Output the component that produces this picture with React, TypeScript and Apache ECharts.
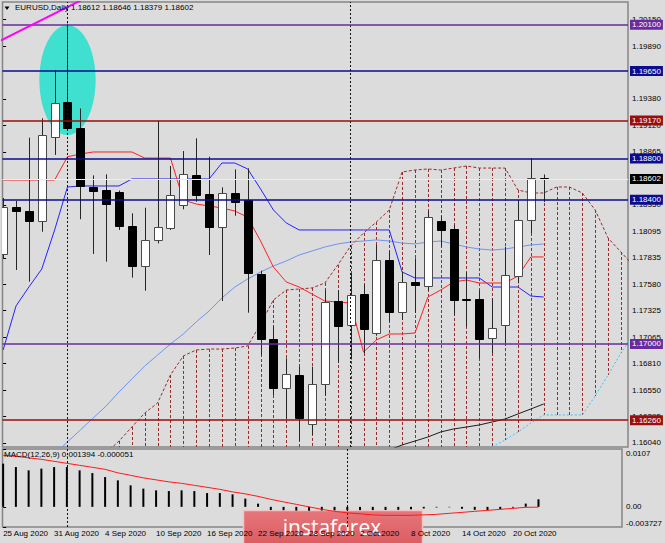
import React, { useEffect, useRef } from "react";
import * as echarts from "echarts";

// ---------------- data ----------------
const symbol = "EURUSD";
const timeframe = "Daily";
const dates = [
  "25 Aug 2020", "26 Aug 2020", "27 Aug 2020", "28 Aug 2020", "31 Aug 2020",
  "1 Sep 2020", "2 Sep 2020", "3 Sep 2020", "4 Sep 2020", "7 Sep 2020",
  "8 Sep 2020", "9 Sep 2020", "10 Sep 2020", "11 Sep 2020", "14 Sep 2020",
  "15 Sep 2020", "16 Sep 2020", "17 Sep 2020", "18 Sep 2020", "21 Sep 2020",
  "22 Sep 2020", "23 Sep 2020", "24 Sep 2020", "25 Sep 2020", "28 Sep 2020",
  "29 Sep 2020", "30 Sep 2020", "1 Oct 2020", "2 Oct 2020", "5 Oct 2020",
  "6 Oct 2020", "7 Oct 2020", "8 Oct 2020", "9 Oct 2020", "12 Oct 2020",
  "13 Oct 2020", "14 Oct 2020", "15 Oct 2020", "16 Oct 2020", "19 Oct 2020",
  "20 Oct 2020", "21 Oct 2020", "22 Oct 2020",
];
const opens = [
  1.17874, 1.18332, 1.18291, 1.18197, 1.19006, 1.19346, 1.19097, 1.18527, 1.18495, 1.18478,
  1.18145, 1.1776, 1.1801, 1.18129, 1.18349, 1.18637, 1.18459, 1.18132, 1.18466, 1.18395,
  1.17677, 1.17049, 1.1657, 1.16699, 1.16223, 1.16612, 1.17417, 1.17184, 1.17482, 1.17104,
  1.17815, 1.17314, 1.17599, 1.17563, 1.18194, 1.18113, 1.1744, 1.17434, 1.17055, 1.17184,
  1.17663, 1.18204, 1.18612,
];
const closes = [
  1.1833, 1.1829, 1.18197, 1.19026, 1.19342, 1.19097, 1.18534, 1.1849, 1.1836, 1.18142,
  1.1776, 1.1801, 1.18136, 1.18446, 1.18647, 1.18446, 1.18132, 1.18463, 1.18378, 1.17686,
  1.17049, 1.1657, 1.16706, 1.16285, 1.16609, 1.17411, 1.17175, 1.17476, 1.17146, 1.17815,
  1.17314, 1.17599, 1.17573, 1.1823, 1.18104, 1.17427, 1.1743, 1.17049, 1.17152, 1.17667,
  1.18201, 1.18608, 1.18602,
];
const lows = [
  1.1783, 1.17718, 1.17605, 1.1809, 1.18835, 1.1909, 1.18211, 1.17874, 1.17799, 1.18107,
  1.17644, 1.17517, 1.17977, 1.18107, 1.18307, 1.18381, 1.17864, 1.17417, 1.18245, 1.17304,
  1.16893, 1.16505, 1.1627, 1.16058, 1.16117, 1.165, 1.16816, 1.1685, 1.1691, 1.1708,
  1.17216, 1.17233, 1.17301, 1.1752, 1.17944, 1.17281, 1.17168, 1.16861, 1.1691, 1.1701,
  1.17589, 1.18075, 1.18379,
];
const highs = [
  1.18417, 1.18388, 1.19003, 1.19191, 1.1966, 1.2011, 1.19287, 1.18637, 1.18647, 1.1849,
  1.18269, 1.18323, 1.19168, 1.18728, 1.18873, 1.18997, 1.18818, 1.18521, 1.18695, 1.18705,
  1.17712, 1.17175, 1.16861, 1.1678, 1.1678, 1.17524, 1.17524, 1.17686, 1.1758, 1.17961,
  1.179, 1.17702, 1.17832, 1.18291, 1.1824, 1.18155, 1.17696, 1.1752, 1.17444, 1.17944,
  1.18398, 1.18803, 1.18646,
];
const tenkan = [
  1.18592, 1.18592, 1.18592, 1.18592, 1.18592, 1.18818, 1.18844, 1.18864, 1.18864, 1.18864,
  1.18864, 1.18805, 1.18805, 1.18805, 1.18398, 1.18359, 1.1834, 1.1832, 1.18291, 1.1823,
  1.18, 1.17747, 1.17602, 1.17553, 1.17485, 1.17417, 1.17408, 1.17398, 1.16922, 1.17039,
  1.17097, 1.17097, 1.17107, 1.17456, 1.17524, 1.17602, 1.17621, 1.17592, 1.17592, 1.17592,
  1.1766, 1.17845, 1.17845,
];
const kijun = [
  1.16942, 1.17369, 1.17553, 1.17728, 1.18107, 1.18524, 1.18534, 1.18534, 1.18534, 1.18534,
  1.18602, 1.18602, 1.18602, 1.18602, 1.18602, 1.18602, 1.18602, 1.18757, 1.18757, 1.18699,
  1.18505, 1.18301, 1.18175, 1.18107, 1.18107, 1.18107, 1.18107, 1.18107, 1.18107, 1.18107,
  1.18107, 1.17699, 1.17641, 1.17641, 1.17641, 1.17641, 1.17641, 1.17641, 1.17553, 1.17553,
  1.17553, 1.17466, 1.17456,
];
const maSlowStart = 4;
const maSlow = [
  1.15932, 1.16049, 1.16165, 1.16282, 1.16398, 1.16534, 1.1666, 1.16786, 1.16893, 1.17,
  1.17097, 1.17214, 1.1732, 1.17447, 1.17553, 1.17631, 1.17699, 1.17757, 1.17806, 1.17864,
  1.17903, 1.17942, 1.17971, 1.1799, 1.18, 1.1801, 1.18, 1.1798, 1.17971, 1.1799,
  1.18, 1.17971, 1.17942, 1.17922, 1.17912, 1.17922, 1.17942, 1.17961, 1.17971,
];
const maDarkStart = 30;
const maDark = [
  1.15971, 1.1602, 1.16058, 1.16097, 1.16146, 1.16175, 1.16194, 1.16214, 1.16243, 1.16272,
  1.16321, 1.16369, 1.16418,
];
const cloudStart = 8;
const spanA = [
  1.15942, 1.16058, 1.16194, 1.1633, 1.16427, 1.16699, 1.16884, 1.16942, 1.16951, 1.16951,
  1.16961, 1.16981, 1.17194, 1.17427, 1.17524, 1.17534, 1.17544, 1.17592, 1.17767, 1.17951,
  1.18077, 1.18184, 1.18301, 1.1867, 1.18689, 1.18699, 1.18689, 1.18708, 1.18728, 1.18708,
  1.18708, 1.18708, 1.18495, 1.18466, 1.18466, 1.18524, 1.18524, 1.18466, 1.18301, 1.18029,
  1.17893, 1.17757,
];
const spanB = [
  1.1548, 1.1551, 1.1551, 1.1553, 1.1556, 1.1557, 1.1561, 1.1561, 1.1562, 1.1566,
  1.1566, 1.1567, 1.1571, 1.1571, 1.1574, 1.1576, 1.1576, 1.1578, 1.1581, 1.1581,
  1.1583, 1.1584, 1.1584, 1.1587, 1.1587, 1.1589, 1.1589, 1.1591, 1.1593, 1.1596,
  1.16, 1.16068, 1.16146, 1.16233, 1.16311, 1.16311, 1.16311, 1.16311, 1.16495, 1.16699,
  1.16913, 1.17087,
];
const macdParams = "12,26,9";
const macdHist = [
  0.00799, 0.00736, 0.00675, 0.00707, 0.00736, 0.00736, 0.00675, 0.00625, 0.00551, 0.0049,
  0.00398, 0.00337, 0.00305, 0.00292, 0.00305, 0.00292, 0.00255, 0.00255, 0.00231, 0.00152,
  0.00059, -0.0006, -0.00062, -0.0007, -0.00072, -0.00068, -0.00065, -0.00062, -0.0006, -0.0006,
  -0.00058, -0.00055, -0.00045, -0.0003, -0.00012, -0.00008, -0.00035, -0.00055, -0.00062, -0.00045,
  -0.00015, 0.0006, 0.001394,
];
const macdSignal = [
  0.00953, 0.00934, 0.00906, 0.00879, 0.00842, 0.00805, 0.00768, 0.00731, 0.00694, 0.00629,
  0.00583, 0.00536, 0.00499, 0.00462, 0.00435, 0.00398, 0.00361, 0.00324, 0.00277, 0.0024,
  0.00194, 0.00139, 0.00092, 0.00046, 0.0, -0.00046, -0.00083, -0.00111, -0.00129, -0.00148,
  -0.00157, -0.00157, -0.00157, -0.00148, -0.00139, -0.0012, -0.00102, -0.00083, -0.00065, -0.00046,
  -0.00028, -0.00009, -0.000051,
];
const levelPrices = [1.201, 1.1965, 1.1917, 1.188, 1.184, 1.17, 1.1626];
const priceTicks = [
  1.1604, 1.16295, 1.1655, 1.1681, 1.17065, 1.17325, 1.1758, 1.17835, 1.18095, 1.1835,
  1.18865, 1.1912, 1.1938, 1.1989, 1.2015,
];
const macdTicks = [-0.003727, 0, 0.0107];
const macdTickLabels = ["-0.003727", "0.00", "0.0107"];
const dateLabelStep = 4;
const trendX = [-1, 7];
const trendY = [1.19896, 1.20396];
const highlightCenter = [5.0, 1.19562];
const highlightRadius = [2.19, 0.00534];
const watermark = "instaforex";

// ---------------- styles ----------------
const BG = "#dcdcdc";
const FONT = "Liberation Sans, Arial, sans-serif";
const levelColors = ["#6a2c9c", "#0c0c8e", "#9a0e0e", "#0c0c8e", "#0c0c8e", "#6a2c9c", "#9a0e0e"];
const CLOUD = "#9a2a2a";
const X_MIN = -0.05;
const X_MAX = 48.55;
const Y_MIN = 1.16;
const Y_MAX = 1.2032;
const M_MIN = -0.003727;
const M_MAX = 0.0107;

const last = closes.length - 1;
const idx = (arr: number[], start: number) => arr.map((v, i) => [start + i, v]);
const separators = dates
  .map((d, i) => (i > 0 && d.split(" ")[1] !== dates[i - 1].split(" ")[1] ? i : -1))
  .filter((i) => i >= 0);

const renderCandle = (_p: any, api: any) => {
  const i = api.value(0);
  const o = api.value(1), c = api.value(2), l = api.value(3), h = api.value(4);
  const po = api.coord([i, o]);
  const pc = api.coord([i, c]);
  const pl = api.coord([i, l]);
  const ph = api.coord([i, h]);
  const bw = Math.round(api.size([1, 0])[0] * 0.62);
  const xc = Math.round(po[0]) + 0.5;
  const top = Math.round(Math.min(po[1], pc[1])) + 0.5;
  let bot = Math.round(Math.max(po[1], pc[1])) + 0.5;
  if (bot - top < 1) bot = top + 1;
  const up = c > o;
  return {
    type: "group",
    children: [
      { type: "line", shape: { x1: xc, y1: ph[1], x2: xc, y2: pl[1] }, style: { stroke: "#262626", lineWidth: 1 } },
      {
        type: "rect",
        shape: { x: xc - bw / 2, y: top, width: bw, height: bot - top },
        style: { fill: up ? "#ffffff" : "#000000", stroke: up ? "#4a4a4a" : "#000000", lineWidth: 1 },
      },
    ],
  };
};

const renderHatch = (_p: any, api: any) => {
  const i = api.value(0);
  const a = api.coord([i, api.value(1)]);
  const b = api.coord([i, api.value(2)]);
  const x = Math.round(a[0]) + 0.5;
  return {
    type: "line",
    shape: { x1: x, y1: a[1], x2: x, y2: b[1] },
    style: { stroke: CLOUD, lineWidth: 1, lineDash: [3, 2] },
  };
};

const renderHighlight = (_p: any, api: any) => {
  const c = api.coord([api.value(0), api.value(1)]);
  const s = api.size([api.value(2), api.value(3)]);
  return {
    type: "circle",
    x: c[0],
    y: c[1],
    scaleX: s[0] / s[1],
    shape: { cx: 0, cy: 0, r: s[1] },
    style: { fill: "#40e0d0" },
  };
};

const lineSeries = (data: number[][], color: string, z: number, extra: any = {}) => ({
  type: "line",
  data,
  xAxisIndex: 0,
  yAxisIndex: 0,
  symbol: "none",
  showSymbol: false,
  silent: true,
  z,
  lineStyle: { color, width: 1, ...extra },
});

const levelLabel = (bg: string, color = "#ffffff") => ({
  show: true,
  position: "end",
  distance: 2,
  formatter: (p: any) => Number(p.value).toFixed(5),
  color,
  backgroundColor: bg,
  padding: [1, 2, 0, 2],
  fontSize: 8,
  lineHeight: 9,
  fontFamily: FONT,
});

const option: any = {
  animation: false,
  backgroundColor: BG,
  textStyle: { fontFamily: FONT },
  title: [
    {
      text: `${symbol},${timeframe} ${opens[last].toFixed(5)} ${highs[last].toFixed(5)} ${lows[last].toFixed(5)} ${closes[last].toFixed(5)}`,
      left: 15,
      top: 3.5,
      padding: 0,
      textStyle: { fontSize: 8, fontWeight: "normal", color: "#000", fontFamily: FONT },
    },
    {
      text: `MACD(${macdParams}) ${macdHist[last].toFixed(6)} ${macdSignal[last].toFixed(6)}`,
      left: 4,
      top: 450.5,
      padding: 0,
      textStyle: { fontSize: 8, fontWeight: "normal", color: "#000", fontFamily: FONT },
    },
  ],
  grid: [
    { left: 2.5, right: 37, top: 2, height: 445, show: true, borderColor: "#858585", borderWidth: 1.5, backgroundColor: "transparent" },
    { left: 2.5, right: 37, top: 449, height: 78, show: true, borderColor: "#858585", borderWidth: 1.5, backgroundColor: "transparent" },
  ],
  xAxis: [
    { type: "value", gridIndex: 0, min: X_MIN, max: X_MAX, show: false },
    {
      type: "value",
      gridIndex: 1,
      min: X_MIN,
      max: X_MAX,
      splitLine: { show: false },
      axisLine: { show: false },
      axisTick: { show: false },
      axisLabel: {
        customValues: dates.map((_, i) => i).filter((i) => i % dateLabelStep === 0),
        formatter: (v: number) => dates[Math.round(v)] ?? "",
        align: "left",
        margin: 2,
        fontSize: 8,
        color: "#000",
        fontFamily: FONT,
      },
    },
  ],
  yAxis: [
    {
      type: "value",
      gridIndex: 0,
      position: "right",
      min: Y_MIN,
      max: Y_MAX,
      splitLine: { show: false },
      axisLine: { show: false },
      axisTick: { show: true, length: 3, customValues: priceTicks, lineStyle: { color: "#000" } },
      axisLabel: {
        customValues: priceTicks,
        formatter: (v: number) => v.toFixed(5),
        margin: 4,
        fontSize: 8,
        color: "#000",
        fontFamily: FONT,
      },
    },
    {
      type: "value",
      gridIndex: 1,
      position: "right",
      min: M_MIN,
      max: M_MAX,
      splitLine: { show: false },
      axisLine: { show: false },
      axisTick: { show: true, length: 3, customValues: macdTicks, lineStyle: { color: "#000" } },
      axisLabel: {
        customValues: macdTicks,
        formatter: (v: number) => {
          const k = macdTicks.findIndex((t) => Math.abs(t - v) < 1e-9);
          return k >= 0 ? macdTickLabels[k] : "";
        },
        verticalAlignMinLabel: "bottom",
        verticalAlignMaxLabel: "top",
        margin: 4,
        fontSize: 8,
        color: "#000",
        fontFamily: FONT,
      },
    },
  ],
  graphic: [
    { type: "polygon", shape: { points: [[4.5, 6.5], [9.5, 6.5], [7, 10]] }, style: { fill: "#000" }, z: 50 },
    {
      type: "group",
      z: 100,
      children: [
        {
          type: "rect",
          shape: { x: 243.5, y: 510.5, width: 179, height: 40 },
          style: {
            fill: new echarts.graphic.LinearGradient(0, 0, 0, 1, [
              { offset: 0, color: "#e6767a" },
              { offset: 1, color: "#d9585d" },
            ]),
            stroke: "#f3c4c4",
            lineWidth: 1.5,
          },
        },
        {
          type: "text",
          style: {
            text: watermark,
            x: 332,
            y: 527,
            align: "center",
            verticalAlign: "middle",
            fill: "#ffffff",
            fontSize: 21,
            fontFamily: "Open Sans, Lato, sans-serif",
          },
        },
      ],
    },
  ],
  series: [
    {
      type: "custom",
      xAxisIndex: 0,
      yAxisIndex: 0,
      renderItem: renderHighlight,
      data: [[highlightCenter[0], highlightCenter[1], highlightRadius[0], highlightRadius[1]]],
      encode: { x: 0, y: 1 },
      silent: true,
      z: 1,
    },
    {
      type: "custom",
      xAxisIndex: 0,
      yAxisIndex: 0,
      renderItem: renderHatch,
      data: spanA.map((a, i) => [cloudStart + i, a, spanB[i]]),
      encode: { x: 0, y: [1, 2] },
      clip: true,
      silent: true,
      z: 2,
    },
    lineSeries(idx(spanA, cloudStart), CLOUD, 2, { type: [3, 2] }),
    lineSeries(idx(spanB, cloudStart), "#3ec3f2", 2, { type: [2, 2] }),
    lineSeries(idx(maSlow, maSlowStart), "#6f93ee", 3),
    lineSeries(idx(maDark, maDarkStart), "#1e1e1e", 3),
    lineSeries(idx(kijun, 0), "#2323ff", 3),
    lineSeries(idx(tenkan, 0), "#ff2020", 3),
    {
      type: "custom",
      xAxisIndex: 0,
      yAxisIndex: 0,
      renderItem: renderCandle,
      data: opens.map((o, i) => [i, o, closes[i], lows[i], highs[i]]),
      encode: { x: 0, y: [1, 2, 3, 4] },
      clip: true,
      silent: true,
      z: 4,
    },
    lineSeries(trendX.map((x, i) => [x, trendY[i]]), "#ff00ff", 5, { width: 2 }),
    {
      type: "line",
      xAxisIndex: 0,
      yAxisIndex: 0,
      data: [],
      silent: true,
      z: 6,
      markLine: {
        silent: true,
        symbol: "none",
        precision: 5,
        animation: false,
        data: [
          ...separators.map((s) => ({
            xAxis: s,
            lineStyle: { color: "#111", width: 1, type: [2, 2] },
            label: { show: false },
          })),
          {
            yAxis: closes[last],
            lineStyle: { color: "#ececf4", width: 1, type: "solid" },
            label: levelLabel("#000000"),
          },
          ...levelPrices.map((p, k) => ({
            yAxis: p,
            lineStyle: { color: levelColors[k], width: 1.6, type: "solid" },
            label: levelLabel(levelColors[k]),
          })),
        ],
      },
    },
    {
      type: "bar",
      xAxisIndex: 1,
      yAxisIndex: 1,
      data: idx(macdHist, 0),
      barWidth: 2,
      itemStyle: { color: "#000" },
      silent: true,
      z: 3,
    },
    {
      type: "line",
      xAxisIndex: 1,
      yAxisIndex: 1,
      data: idx(macdSignal, 0),
      symbol: "none",
      showSymbol: false,
      silent: true,
      lineStyle: { color: "#ff1a1a", width: 1 },
      z: 4,
      markLine: {
        silent: true,
        symbol: "none",
        precision: 5,
        animation: false,
        data: separators.map((s) => ({
          xAxis: s,
          lineStyle: { color: "#111", width: 1, type: [2, 2] },
          label: { show: false },
        })),
      },
    },
  ],
};

export default function App() {
  const ref = useRef<HTMLDivElement>(null);
  useEffect(() => {
    document.body.style.margin = "0";
    document.body.style.background = BG;
    const chart = echarts.init(ref.current!, null, { renderer: "svg" });
    chart.setOption(option);
    return () => chart.dispose();
  }, []);
  return (
    <div
      ref={ref}
      style={{ position: "absolute", left: 0, top: 0, width: 665, height: 543, background: BG }}
    />
  );
}
